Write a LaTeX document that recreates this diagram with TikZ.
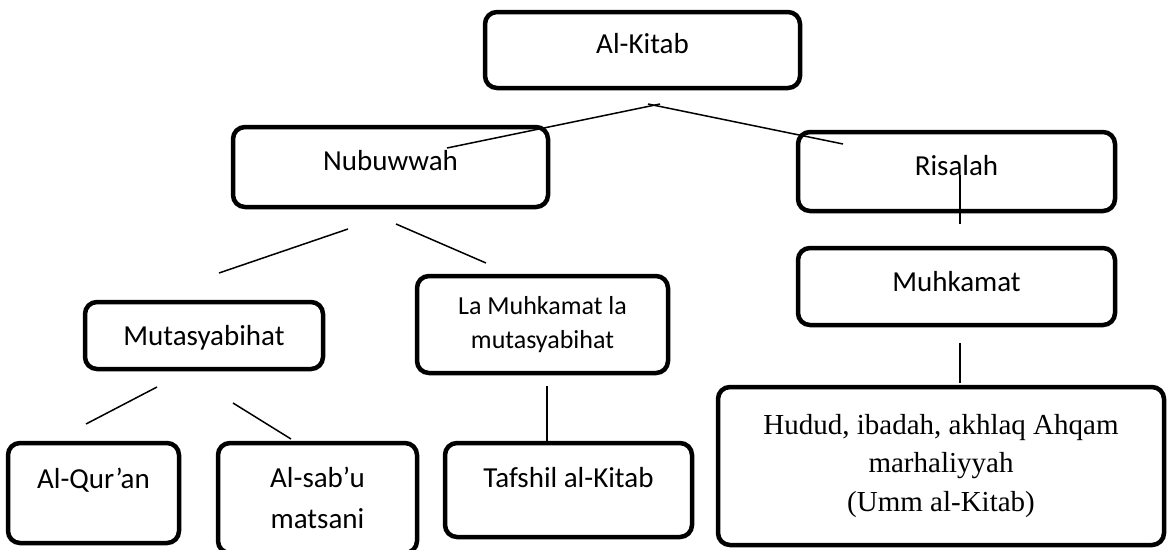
\documentclass[tikz,border=0pt]{standalone}
\usepackage{fontspec}
\setmainfont{Carlito}
\newfontfamily\timesfont{Liberation Serif}

\begin{document}
\begin{tikzpicture}[x=1pt, y=-1pt,
  every node/.style = {shape=rectangle, rounded corners=12pt,
    draw, line width=4.5pt, inner sep=0pt, align=center,
    font=\fontsize{29}{38}\selectfont},
  link/.style = {line width=1.5pt}]
  \useasboundingbox (0,0) rectangle (1167,549);

  \node[anchor=base, minimum width=315pt, text height=41pt, text depth=35pt] (kitab) at (642.5,53) {Al-Kitab};
  \node[anchor=base, minimum width=315pt, text height=43pt, text depth=37pt] (nubuwwah) at (390.5,170) {Nubuwwah};
  \node[anchor=base, minimum width=317pt, text height=43pt, text depth=36pt] (risalah) at (956.5,175) {Risalah};
  \node[anchor=base, minimum width=317pt, text height=43pt, text depth=34pt] (muhkamat) at (956.5,291) {Muhkamat};
  \node[anchor=base, minimum width=238pt, text height=43pt, text depth=24pt] (mutasyabihat) at (204,345) {Mutasyabihat};
  \node[minimum width=251pt, minimum height=97pt, font=\fontsize{26}{34}\selectfont] (lamuhkamat) at (542.5,324.5) {La Muhkamat la\\mutasyabihat};
  \node[anchor=base, minimum width=171pt, text height=45pt, text depth=55pt] (quran) at (93.5,488) {Al-Qur’an};
  \node[minimum width=199pt, minimum height=110pt, font=\fontsize{29}{41}\selectfont] (sabu) at (317.5,498) {Al-sab’u\\matsani};
  \node[anchor=base, minimum width=247pt, text height=44pt, text depth=50pt] (tafshil) at (568.5,487) {Tafshil al-Kitab};
  \node[minimum width=446pt, minimum height=158pt, font=\timesfont\fontsize{29}{38.5}\selectfont] (hudud) at (941,466) {Hudud, ibadah, akhlaq Ahqam\\marhaliyyah\\(Umm al-Kitab)};

  \coordinate (kn-a) at (660,104);
  \coordinate (kn-b) at (447,148);
  \coordinate (kr-a) at (648,104);
  \coordinate (kr-b) at (843,144);
  \coordinate (rm-a) at (960,175);
  \coordinate (rm-b) at (960,224);
  \coordinate (nm-a) at (348,229);
  \coordinate (nm-b) at (219,273);
  \coordinate (nl-a) at (396,224);
  \coordinate (nl-b) at (486,263);
  \coordinate (mq-a) at (157,387);
  \coordinate (mq-b) at (86,424);
  \coordinate (ms-a) at (233,403);
  \coordinate (ms-b) at (291,439);
  \coordinate (lt-a) at (547,386);
  \coordinate (lt-b) at (547,443);
  \coordinate (mh-a) at (960,343);
  \coordinate (mh-b) at (960,383);

  \draw[link] (kn-a) -- (kn-b);
  \draw[link] (kr-a) -- (kr-b);
  \draw[link] (rm-a) -- (rm-b);
  \draw[link] (nm-a) -- (nm-b);
  \draw[link] (nl-a) -- (nl-b);
  \draw[link] (mq-a) -- (mq-b);
  \draw[link] (ms-a) -- (ms-b);
  \draw[link] (lt-a) -- (lt-b);
  \draw[link] (mh-a) -- (mh-b);
\end{tikzpicture}
\end{document}
